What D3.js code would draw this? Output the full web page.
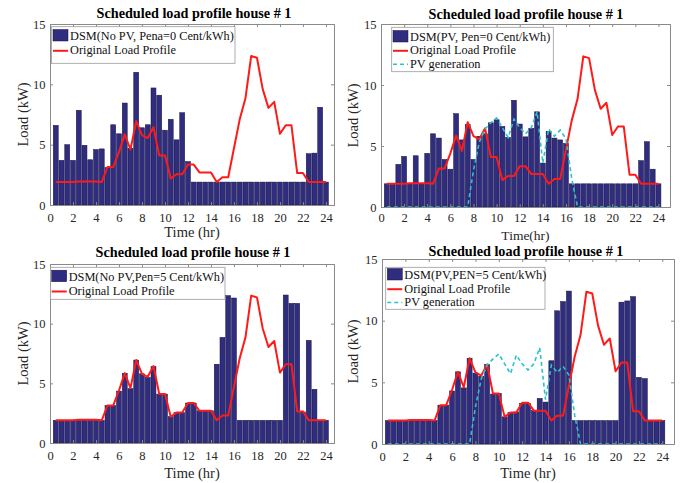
<!DOCTYPE html>
<html><head><meta charset="utf-8">
<script src="https://cdn.jsdelivr.net/npm/d3@7/dist/d3.min.js"></script>
<style>body{margin:0;background:#fff}svg{display:block}</style>
</head><body><svg id="c" width="686" height="483"></svg>
<script>
// ---- data ----
const hours = [0.5,1,1.5,2,2.5,3,3.5,4,4.5,5,5.5,6,6.5,7,7.5,8,8.5,9,9.5,10,10.5,11,11.5,12,
               12.5,13,13.5,14,14.5,15,15.5,16,16.5,17,17.5,18,18.5,19,19.5,20,20.5,21,21.5,22,22.5,23,23.5,24];
const originalLoad = [1.9,1.9,1.9,1.9,1.95,1.95,1.95,1.95,1.9,3.15,3.15,4.4,5.85,4.6,6.95,5.8,5.55,6.45,4.1,4.1,2.2,2.55,2.55,3.35,
                      3.35,2.7,2.7,2.7,1.9,2.3,2.3,4.7,7.1,8.85,12.35,12.2,9.6,8.05,8.55,5.9,6.6,6.6,2.65,2.65,1.9,1.9,1.9,1.9];
const pvGeneration = [0,0,0,0,0,0,0,0,0,0,0,0,0,0,0,3.0,5.3,6.4,6.9,7.3,6.5,5.7,7.2,6.5,
                      6.0,6.5,7.8,3.6,6.4,5.8,6.3,5.6,2.3,0,0,0,0,0,0,0,0,0,0,0,0,0,0,0];
const dsmNoPvPen0 = [6.6,3.7,5.0,3.7,7.85,4.95,3.75,4.6,4.65,3.1,6.65,5.9,8.45,4.7,11.0,6.4,6.65,9.7,9.1,6.2,7.1,5.4,7.65,3.6,
                     1.9,1.9,1.9,1.9,1.9,1.9,1.9,1.9,1.9,1.9,1.9,1.9,1.9,1.9,1.9,1.9,1.9,1.9,1.9,1.9,4.25,4.3,8.1,1.9];
const dsmPvPen0 = [1.9,1.9,3.5,4.15,1.9,4.2,1.9,4.4,6.0,5.65,3.9,3.1,7.65,5.5,6.75,3.9,5.8,6.0,6.9,7.15,6.6,5.7,8.75,6.8,
                   5.75,6.45,7.8,3.6,6.2,5.65,5.5,5.2,1.9,1.9,1.9,1.9,1.9,1.9,1.9,1.9,1.9,1.9,1.9,1.9,3.8,5.35,3.1,1.9];
const dsmNoPvPen5 = [1.9,1.9,1.9,1.9,1.95,1.95,1.95,1.95,1.9,3.15,3.15,4.35,5.85,4.55,6.95,5.8,5.5,6.4,4.1,4.1,2.2,2.55,2.55,3.35,
                     3.35,2.7,2.7,2.7,6.6,8.85,12.35,12.15,1.9,1.9,1.9,1.9,1.9,1.9,1.9,1.9,12.4,11.7,11.7,2.6,8.6,4.5,1.9,1.9];
const dsmPvPen5 = [1.9,1.9,1.9,1.9,1.95,1.95,1.95,1.95,1.9,3.15,3.15,4.3,5.85,4.55,6.95,5.75,5.5,6.45,4.05,4.1,2.2,2.55,2.6,3.3,
                   3.3,2.7,3.7,3.4,6.75,10.8,11.55,12.4,1.9,1.9,1.9,1.9,1.9,1.9,1.9,1.9,11.5,11.6,11.95,5.4,5.3,1.9,1.9,1.9];
const xTicks = [0,2,4,6,8,10,12,14,16,18,20,22,24];
const yTicks = [0,5,10,15];
const titleText = "Scheduled load profile house # 1";
const legendBars = ["DSM(No PV, Pena=0 Cent/kWh)","DSM(PV, Pen=0 Cent/kWh)","DSM(No PV,Pen=5 Cent/kWh)","DSM(PV,PEN=5 Cent/kWh)"];
const legendLoad = "Original Load Profile";
const legendPv = "PV generation";
const xLabels = ["Time (hr)","Time(hr)","Time (hr)","Time (hr)"];
const yLabel = "Load (kW)";

// ---- layout ----
const panels = [
  {bars:dsmNoPvPen0, pv:false, L:50, R:334, T:24, B:205, xmax:24.7, tx:194, ty:18, xly:237, ylx:23, tp:8,
   lg:{x:51.5,y:26.7,w:183.5,h:36.6,sx:53,rows:[40,54.3]}},
  {bars:dsmPvPen0, pv:true, L:381, R:670, T:24, B:207, xmax:25, tx:526, ty:18.5, xly:239.5, ylx:353, tp:6.5,
   lg:{x:391.7,y:27.3,w:161.6,h:44.4,sx:393,rows:[41,54.3,67.7]}},
  {bars:dsmNoPvPen5, pv:false, L:50, R:334, T:264, B:443, xmax:24.7, tx:193, ty:256.5, xly:478, ylx:23, tp:8,
   lg:{x:50.5,y:267.3,w:174.5,h:32,sx:51.7,rows:[280.7,295]}},
  {bars:dsmPvPen5, pv:true, L:382, R:674, T:259, B:444, xmax:25, tx:526, ty:255.5, xly:478, ylx:353, tp:8,
   lg:{x:385.7,y:267.3,w:159.3,h:42,sx:387.3,rows:[279,292.7,306]}}
];

const FONT = "'Liberation Serif','Times New Roman',serif";
const BAR = "#302c80", RED = "#ff1a1a", CYAN = "#2cc3c8", AX = "#8a8a8a";
const svg = d3.select("#c");

panels.forEach((p, i) => {
  const x = d3.scaleLinear().domain([0, p.xmax]).range([p.L, p.R]);
  const y = d3.scaleLinear().domain([0, 15]).range([p.B, p.T]);
  const g = svg.append("g");

  // bars
  const bw = x(0.5 * 0.86) - x(0);
  g.selectAll("rect.bar").data(hours.map((h, k) => ({h, v: p.bars[k]}))).join("rect")
    .attr("class","bar")
    .attr("x", d => x(d.h) - bw/2).attr("width", bw)
    .attr("y", d => y(d.v)).attr("height", d => y(0) - y(d.v))
    .attr("fill", BAR).attr("stroke", "#15143a").attr("stroke-width", 0.5);

  // lines
  const line = d3.line().x(d => x(d[0])).y(d => y(d[1]));
  g.append("path").datum(hours.map((h,k)=>[h, originalLoad[k]]))
    .attr("d", line).attr("fill","none").attr("stroke",RED).attr("stroke-width",2).attr("stroke-linejoin","round");
  if (p.pv) {
    g.append("path").datum(hours.map((h,k)=>[h, pvGeneration[k]]))
      .attr("d", line).attr("fill","none").attr("stroke",CYAN).attr("stroke-width",1.6).attr("stroke-dasharray","4,3");
  }

  // axes
  const axB = g.append("g").attr("transform",`translate(0,${p.B})`)
    .call(d3.axisBottom(x).tickValues(xTicks).tickSize(-3).tickPadding(p.tp).tickFormat(d3.format("d")));
  const axT = g.append("g").attr("transform",`translate(0,${p.T})`)
    .call(d3.axisTop(x).tickValues(xTicks).tickSize(-3).tickFormat(""));
  const axL = g.append("g").attr("transform",`translate(${p.L},0)`)
    .call(d3.axisLeft(y).tickValues(yTicks).tickSize(-3).tickPadding(4.5).tickFormat(d3.format("d")));
  const axR = g.append("g").attr("transform",`translate(${p.R},0)`)
    .call(d3.axisRight(y).tickValues(yTicks).tickSize(-3).tickFormat(""));
  [axB, axT, axL, axR].forEach(a => {
    a.select(".domain").attr("stroke", AX).attr("stroke-width", 1);
    a.selectAll(".tick line").attr("stroke", AX);
    a.selectAll("text").attr("font-family", FONT).attr("font-size", 12.5).attr("fill", "#262626");
  });

  // legend
  const lg = p.lg;
  const lgG = g.append("g");
  lgG.append("rect").attr("x",lg.x).attr("y",lg.y).attr("width",lg.w).attr("height",lg.h)
    .attr("fill","#fff").attr("stroke","#9a9a9a").attr("stroke-width",0.8);
  const items = [{t:legendBars[i], k:"bar"}, {t:legendLoad, k:"red"}];
  if (p.pv) items.push({t:legendPv, k:"pv"});
  items.forEach((it, r) => {
    const b = lg.rows[r];
    if (it.k === "bar") {
      lgG.append("rect").attr("x", lg.sx).attr("y", b - 10.5).attr("width", 15).attr("height", 11.5)
        .attr("fill", BAR).attr("stroke","#15143a").attr("stroke-width",0.5);
    } else if (it.k === "red") {
      lgG.append("line").attr("x1", lg.sx).attr("x2", lg.sx + 15).attr("y1", b - 3.5).attr("y2", b - 3.5)
        .attr("stroke", RED).attr("stroke-width", 2);
    } else {
      lgG.append("line").attr("x1", lg.sx).attr("x2", lg.sx + 15).attr("y1", b - 3.5).attr("y2", b - 3.5)
        .attr("stroke", CYAN).attr("stroke-width", 1.6).attr("stroke-dasharray","4,3");
    }
    lgG.append("text").attr("x", lg.sx + 17).attr("y", b).text(it.t)
      .attr("font-family", FONT).attr("font-size", 12.3).attr("fill", "#111");
  });

  // titles and labels
  g.append("text").attr("x", p.tx).attr("y", p.ty).attr("text-anchor","middle")
    .attr("font-family", FONT).attr("font-weight","bold").attr("font-size",14.2).attr("fill","#000").text(titleText);
  g.append("text").attr("x", (p.L + p.R)/2).attr("y", p.xly).attr("text-anchor","middle")
    .attr("font-family", FONT).attr("font-size", i === 1 ? 13.5 : 14.5).attr("fill","#262626").text(xLabels[i]);
  g.append("text").attr("transform", `translate(${p.ylx},${(p.T + p.B)/2}) rotate(-90)`)
    .attr("text-anchor","middle").attr("dy","0.35em")
    .attr("font-family", FONT).attr("font-size",14.5).attr("fill","#262626").text(yLabel);
});
</script>
</body></html>
